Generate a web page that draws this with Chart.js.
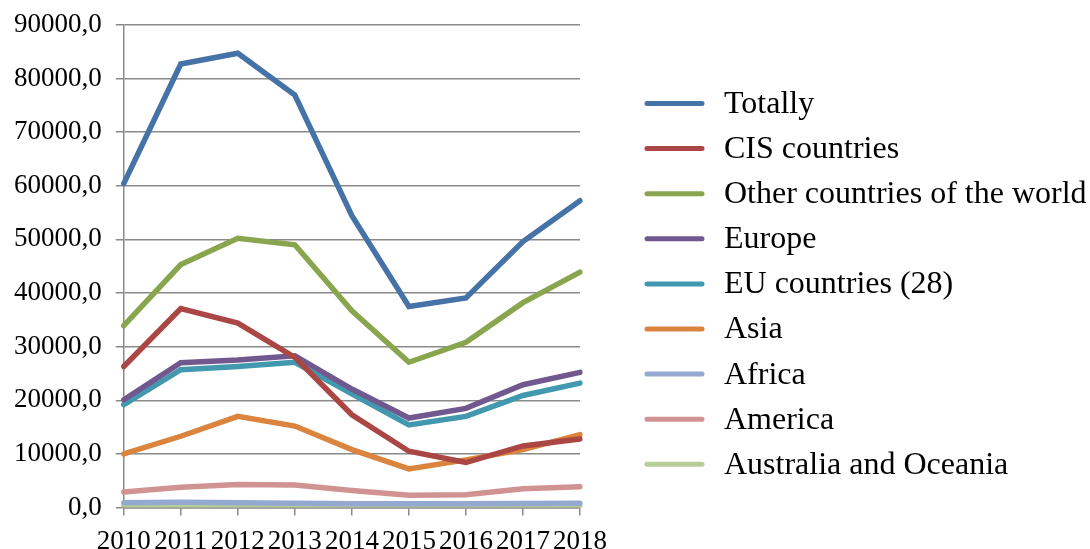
<!DOCTYPE html>
<html>
<head>
<meta charset="utf-8">
<script src="https://cdn.jsdelivr.net/npm/chart.js@4.4.1/dist/chart.umd.min.js"></script>
<style>
  html, body { margin: 0; padding: 0; background: #fff; }
  #wrap { width: 1090px; height: 549px; }
</style>
</head>
<body>
<div id="wrap"><canvas id="lineChart" width="1090" height="549"></canvas></div>
<script>
let years = ["2010", "2011", "2012", "2013", "2014", "2015", "2016", "2017", "2018"];

let totally      = [60400, 82700, 84700, 76900, 54400, 37500, 39100, 49600, 57200];
let cisCountries = [26300, 37100, 34400, 28000, 17300, 10500, 8400, 11500, 12800];
let otherWorld   = [33900, 45300, 50200, 49000, 36700, 27100, 30800, 38200, 43900];
let europe       = [20100, 27000, 27500, 28300, 22100, 16700, 18500, 22900, 25200];
let euCountries  = [19200, 25700, 26300, 27100, 21200, 15400, 17000, 20900, 23200];
let asia         = [10000, 13300, 17000, 15200, 10800, 7200, 8900, 10800, 13600];
let africa       = [900, 1000, 900, 800, 700, 700, 700, 750, 800];
let america      = [2900, 3800, 4300, 4200, 3200, 2300, 2400, 3500, 3900];
let australia    = [350, 400, 300, 250, 300, 300, 300, 300, 250];

let yTicksMax = 90000;
let yTicksStep = 10000;

    function makeSet(label, values, color) {
        return {
            label: label,
            data: values,
            borderColor: color,
            backgroundColor: color,
            borderWidth: 5.5,
            pointRadius: 0,
            tension: 0,
            fill: false,
            borderCapStyle: "round",
            borderJoinStyle: "miter"
        };
    }

    const serif = "'Liberation Serif', 'Times New Roman', serif";

    // the built-in legend gets squeezed on the right, so draw it ourselves
    const sideLegend = {
        id: "sideLegend",
        afterDraw(chart) {
            const ctx = chart.ctx;
            const area = chart.chartArea;
            const sets = chart.data.datasets;
            const x0 = area.right + 67;
            const lineLen = 55;
            const rowStep = 45.1;
            const firstY = area.top + 78.7;
            ctx.save();
            ctx.font = "32px " + serif;
            ctx.textBaseline = "middle";
            ctx.textAlign = "left";
            sets.forEach((ds, i) => {
                const y = firstY + i * rowStep;
                ctx.strokeStyle = ds.borderColor;
                ctx.lineWidth = 5;
                ctx.lineCap = "round";
                ctx.beginPath();
                ctx.moveTo(x0, y);
                ctx.lineTo(x0 + lineLen, y);
                ctx.stroke();
                ctx.fillStyle = "#000";
                ctx.fillText(ds.label, x0 + lineLen + 22, y + 1);
            });
            ctx.restore();
        }
    };

    function createChart() {
        const ctx = document.querySelector("#lineChart").getContext("2d");

        const data = {
            labels: years,
            datasets: [
                makeSet("Totally", totally, "#4572A7"),
                makeSet("CIS countries", cisCountries, "#AA4643"),
                makeSet("Other countries of the world", otherWorld, "#89A54E"),
                makeSet("Europe", europe, "#71588F"),
                makeSet("EU countries (28)", euCountries, "#4198AF"),
                makeSet("Asia", asia, "#DB843D"),
                makeSet("Africa", africa, "#93A9CF"),
                makeSet("America", america, "#D19392"),
                makeSet("Australia and Oceania", australia, "#B9CD96")
            ]
        };

        const gridGray = "#8a8a8a";

        const config = {
            type: "line",
            data: data,
            options: {
                responsive: false,
                animation: false,
                layout: {
                    padding: { top: 0, left: 0, right: 510, bottom: -19 }
                },
                scales: {
                    x: {
                        offset: false,
                        grid: {
                            drawOnChartArea: false,
                            drawTicks: true,
                            tickLength: 8,
                            color: gridGray,
                            lineWidth: 1.5
                        },
                        border: { color: gridGray, width: 1.5 },
                        ticks: {
                            color: "#000",
                            font: { family: serif, size: 27 },
                            maxRotation: 0,
                            autoSkip: false,
                            padding: 10
                        }
                    },
                    y: {
                        min: 0,
                        max: yTicksMax,
                        grid: {
                            color: gridGray,
                            lineWidth: 1.5,
                            tickLength: 8
                        },
                        border: { color: gridGray, width: 1.5 },
                        ticks: {
                            stepSize: yTicksStep,
                            color: "#000",
                            font: { family: serif, size: 27, lineHeight: 0.8 },
                            padding: 14,
                            callback: (v) => v.toFixed(1).replace(".", ",")
                        }
                    }
                },
                plugins: {
                    legend: { display: false },
                    tooltip: { enabled: false }
                }
            },
            plugins: [sideLegend]
        };

        new Chart(ctx, config);
    }

    createChart();
</script>
</body>
</html>
